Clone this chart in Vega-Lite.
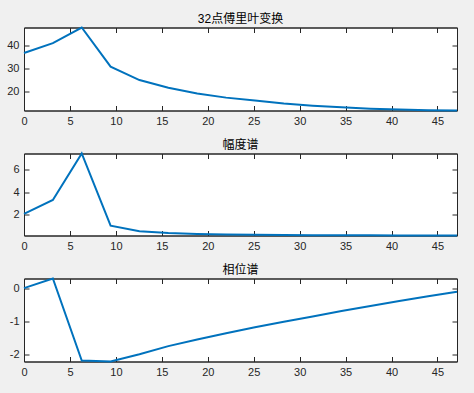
{
  "$schema": "https://vega.github.io/schema/vega-lite/v6.json",
  "background": "#f0f0f0",
  "padding": {"left": 6, "top": 11.5, "right": 18, "bottom": 15},
  "spacing": 43,
  "bounds": "flush",
  "config": {
    "view": {"fill": "white", "stroke": "#262626", "strokeWidth": 1},
    "axis": {
      "grid": false,
      "domainColor": "#262626",
      "tickColor": "#262626",
      "tickSize": -5,
      "labelFont": "Liberation Sans",
      "labelFontSize": 11,
      "labelColor": "#262626",
      "labelPadding": 10,
      "labelFlush": false,
      "labelExpr": "replace(datum.label, '−', '-')",
      "title": null
    },
    "title": {"font": "Liberation Sans, Noto Sans CJK SC", "fontSize": 12, "fontWeight": "normal", "color": "#000000", "offset": -2},
    "line": {"color": "#0072BD", "strokeWidth": 2}
  },
  "datasets": {
    "fft": [
      {"x": 0, "a": 36.6, "b": 2.06, "c": 0.0},
      {"x": 3.14159, "a": 40.9, "b": 3.31, "c": 0.29},
      {"x": 6.28319, "a": 47.7, "b": 7.45, "c": -2.19},
      {"x": 9.42478, "a": 30.7, "b": 1.02, "c": -2.22},
      {"x": 12.56637, "a": 24.85, "b": 0.51, "c": -2.0},
      {"x": 15.70796, "a": 21.5, "b": 0.36, "c": -1.755},
      {"x": 18.84956, "a": 19.0, "b": 0.27, "c": -1.554},
      {"x": 21.99115, "a": 17.2, "b": 0.23, "c": -1.365},
      {"x": 25.13274, "a": 15.9, "b": 0.2, "c": -1.183},
      {"x": 28.27433, "a": 14.6, "b": 0.18, "c": -1.02},
      {"x": 31.41593, "a": 13.7, "b": 0.17, "c": -0.856},
      {"x": 34.55752, "a": 13.0, "b": 0.16, "c": -0.693},
      {"x": 37.69911, "a": 12.4, "b": 0.155, "c": -0.54},
      {"x": 40.8407, "a": 12.0, "b": 0.15, "c": -0.388},
      {"x": 43.9823, "a": 11.75, "b": 0.145, "c": -0.25},
      {"x": 47.12389, "a": 11.6, "b": 0.14, "c": -0.11}
    ]
  },
  "vconcat": [
    {
      "title": "32点傅里叶变换",
      "width": 433, "height": 83,
      "data": {"name": "fft"},
      "layer": [
        {"mark": {"type": "line"},
         "encoding": {
           "x": {"field": "x", "type": "quantitative", "scale": {"domain": [0, 47.12389], "nice": false, "zero": false}, "axis": {"values": [0,5,10,15,20,25,30,35,40,45]}},
           "y": {"field": "a", "type": "quantitative", "scale": {"domain": [11.6, 47.7], "nice": false, "zero": false}, "axis": {"values": [20,30,40]}}
         }},
        {"mark": {"type": "line", "strokeOpacity": 0},
         "encoding": {
           "x": {"field": "x", "type": "quantitative", "axis": {"orient": "top", "labels": false, "values": [0,5,10,15,20,25,30,35,40,45]}},
           "y": {"field": "a", "type": "quantitative", "axis": {"orient": "right", "labels": false, "values": [20,30,40]}}
         }}
      ],
      "resolve": {"axis": {"x": "independent", "y": "independent"}}
    },
    {
      "title": "幅度谱",
      "width": 433, "height": 82,
      "data": {"name": "fft"},
      "layer": [
        {"mark": {"type": "line"},
         "encoding": {
           "x": {"field": "x", "type": "quantitative", "scale": {"domain": [0, 47.12389], "nice": false, "zero": false}, "axis": {"values": [0,5,10,15,20,25,30,35,40,45]}},
           "y": {"field": "b", "type": "quantitative", "scale": {"domain": [0.14, 7.45], "nice": false, "zero": false}, "axis": {"values": [2,4,6]}}
         }},
        {"mark": {"type": "line", "strokeOpacity": 0},
         "encoding": {
           "x": {"field": "x", "type": "quantitative", "axis": {"orient": "top", "labels": false, "values": [0,5,10,15,20,25,30,35,40,45]}},
           "y": {"field": "b", "type": "quantitative", "axis": {"orient": "right", "labels": false, "values": [2,4,6]}}
         }}
      ],
      "resolve": {"axis": {"x": "independent", "y": "independent"}}
    },
    {
      "title": "相位谱",
      "width": 433, "height": 83,
      "data": {"name": "fft"},
      "layer": [
        {"mark": {"type": "line"},
         "encoding": {
           "x": {"field": "x", "type": "quantitative", "scale": {"domain": [0, 47.12389], "nice": false, "zero": false}, "axis": {"values": [0,5,10,15,20,25,30,35,40,45]}},
           "y": {"field": "c", "type": "quantitative", "scale": {"domain": [-2.22, 0.29], "nice": false, "zero": false}, "axis": {"values": [-2,-1,0]}}
         }},
        {"mark": {"type": "line", "strokeOpacity": 0},
         "encoding": {
           "x": {"field": "x", "type": "quantitative", "axis": {"orient": "top", "labels": false, "values": [0,5,10,15,20,25,30,35,40,45]}},
           "y": {"field": "c", "type": "quantitative", "axis": {"orient": "right", "labels": false, "values": [-2,-1,0]}}
         }}
      ],
      "resolve": {"axis": {"x": "independent", "y": "independent"}}
    }
  ]
}
